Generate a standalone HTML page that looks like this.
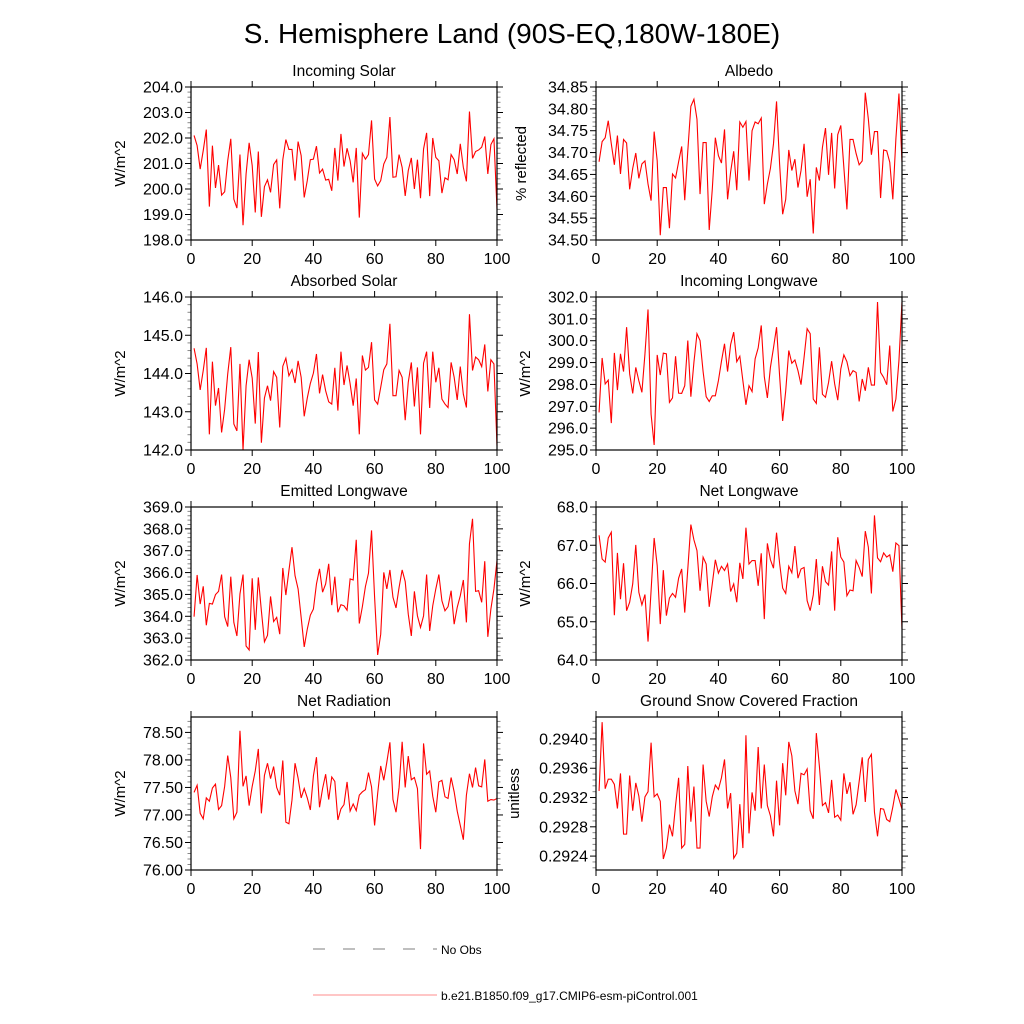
<!DOCTYPE html>
<html><head><meta charset="utf-8"><style>
html,body{margin:0;padding:0;background:#fff}
svg{display:block;font-family:"Liberation Sans",sans-serif}
</style></head><body>
<svg id="chart" width="1024" height="1024" viewBox="0 0 1024 1024">
<text x="512" y="43" text-anchor="middle" font-size="28">S. Hemisphere Land (90S-EQ,180W-180E)</text>
<g id="panels"></g>
<g>
<line x1="313" y1="949" x2="437" y2="949" stroke="#555" stroke-width="0.8" stroke-dasharray="12,18"/>
<text x="441" y="954" font-size="12">No Obs</text>
<line x1="313" y1="995" x2="437" y2="995" stroke="#f66" stroke-width="0.8"/>
<text x="441" y="1000" font-size="12">b.e21.B1850.f09_g17.CMIP6-esm-piControl.001</text>
</g>
</svg>
<script>
const xTicks=[0,20,40,60,80,100];
const incomingSolar=[202.10,201.70,200.78,201.51,202.33,199.31,201.70,200.04,200.94,199.76,199.89,201.11,201.97,199.60,199.25,201.35,198.58,200.59,201.81,200.92,199.08,201.47,198.91,200.09,200.36,199.87,200.96,201.14,199.24,201.15,201.94,201.55,201.55,200.33,201.86,201.31,199.67,200.33,201.15,201.17,201.68,200.63,200.78,200.35,200.38,199.93,201.61,200.33,202.16,200.88,201.60,201.11,200.26,201.61,198.88,201.40,201.17,201.35,202.69,200.39,200.12,200.33,200.98,201.24,202.82,200.46,200.48,201.35,200.85,199.73,200.72,201.22,200.00,201.15,199.64,201.57,202.20,199.72,202.00,201.24,201.11,199.84,200.44,200.36,201.35,201.15,200.59,201.77,200.85,200.30,203.04,201.20,201.47,201.53,201.64,202.06,200.59,201.74,201.97,199.21];
const albedo=[34.679,34.725,34.734,34.773,34.720,34.672,34.739,34.651,34.730,34.722,34.616,34.664,34.699,34.641,34.674,34.681,34.628,34.590,34.748,34.681,34.511,34.620,34.620,34.527,34.651,34.642,34.679,34.714,34.591,34.704,34.806,34.822,34.776,34.605,34.723,34.723,34.523,34.616,34.734,34.693,34.676,34.753,34.593,34.656,34.703,34.614,34.770,34.758,34.771,34.636,34.750,34.770,34.766,34.779,34.582,34.628,34.664,34.720,34.817,34.674,34.559,34.593,34.706,34.659,34.685,34.620,34.659,34.720,34.599,34.639,34.515,34.666,34.636,34.712,34.756,34.649,34.745,34.618,34.741,34.762,34.666,34.570,34.730,34.730,34.698,34.672,34.681,34.837,34.777,34.695,34.748,34.748,34.596,34.706,34.704,34.678,34.593,34.731,34.835,34.678];
const absorbedSolar=[144.66,144.25,143.57,144.08,144.67,142.41,144.31,143.16,143.62,142.46,143.07,143.99,144.69,142.68,142.50,144.25,142.00,143.68,144.36,143.88,142.69,144.56,142.19,143.36,143.68,143.29,144.05,143.90,142.59,144.19,144.40,143.94,144.10,143.75,144.33,143.90,142.88,143.36,143.74,144.01,144.51,143.48,143.97,143.55,143.26,143.20,144.15,143.03,144.57,143.70,144.21,143.73,143.16,143.87,142.41,144.47,144.09,144.16,144.82,143.31,143.20,143.64,144.10,144.25,145.30,143.42,143.42,144.08,143.90,142.78,143.77,144.29,143.14,144.16,142.41,144.27,144.57,143.10,144.57,143.77,144.15,143.33,143.20,143.11,144.29,143.90,143.31,144.18,143.46,143.11,145.55,144.08,144.43,144.36,144.18,144.76,143.53,144.36,144.25,142.11];
const incomingLW=[296.72,299.21,298.02,298.20,296.23,299.44,297.74,299.40,298.59,300.62,298.48,297.59,298.78,298.17,297.64,299.40,301.43,296.64,295.23,299.35,298.43,299.43,299.40,297.18,297.38,299.29,297.60,297.59,297.94,300.01,297.44,299.01,300.32,300.01,298.59,297.44,297.22,297.48,297.48,298.17,299.06,299.86,298.59,299.83,300.39,299.04,299.29,298.17,297.07,297.94,297.67,299.17,299.67,300.70,298.36,297.38,298.78,299.67,300.62,298.40,296.33,297.71,299.55,298.97,299.12,298.63,297.99,299.24,300.55,300.32,297.33,297.13,299.70,297.55,297.41,298.09,299.06,298.02,297.28,298.71,299.35,299.04,298.40,298.63,298.55,297.22,298.25,297.71,298.78,297.97,297.97,301.77,298.55,298.32,297.99,299.78,296.76,297.33,299.09,301.77];
const emittedLW=[363.98,365.89,364.56,365.37,363.59,364.59,364.56,364.99,365.14,365.91,363.98,363.53,365.81,363.72,363.10,365.02,365.91,362.64,362.46,365.74,363.38,365.78,364.25,362.83,363.13,364.91,363.76,363.95,363.18,366.21,364.97,366.09,367.16,365.86,365.25,363.95,362.60,363.41,364.05,364.33,365.48,366.17,365.10,365.48,366.40,364.51,365.81,364.18,364.53,364.48,364.28,365.71,365.66,367.50,363.67,364.44,365.36,365.97,367.93,364.87,362.23,363.18,366.01,365.25,366.12,364.87,364.38,365.32,366.12,365.59,364.10,363.10,365.14,364.02,363.49,364.02,365.91,363.33,364.48,365.25,365.91,364.71,364.25,364.44,365.17,363.64,364.41,364.94,365.66,363.72,367.32,368.46,365.14,365.17,364.64,366.52,363.06,364.33,365.25,366.55];
const netLW=[67.26,66.64,66.56,67.19,67.34,65.17,66.80,65.59,66.53,65.29,65.51,65.99,67.01,65.77,65.44,65.71,64.48,65.81,67.19,66.47,64.94,66.35,65.16,65.62,65.74,65.64,66.14,66.38,65.24,66.38,67.54,67.14,66.86,65.81,66.69,66.51,65.39,65.99,66.62,66.27,66.45,66.34,66.51,65.79,65.99,65.51,66.54,66.12,67.46,66.51,66.60,66.60,65.94,66.79,65.07,67.05,66.62,66.40,67.33,66.53,65.88,65.74,66.45,66.28,66.98,66.14,66.38,66.42,65.55,65.29,65.70,66.64,65.44,66.45,66.05,65.96,66.84,65.29,67.21,66.69,66.56,65.68,65.83,65.81,66.60,66.42,66.18,67.37,66.95,65.74,67.78,66.67,66.57,66.80,66.69,66.75,66.31,67.06,66.99,64.81];
const netRad=[77.41,77.54,77.03,76.93,77.31,77.25,77.49,77.56,77.10,77.17,77.52,78.08,77.68,76.93,77.05,78.53,77.52,77.71,77.17,77.52,77.80,78.20,77.03,77.72,77.94,77.66,77.88,77.50,77.36,77.99,76.87,76.84,77.27,77.94,77.67,77.31,77.48,77.31,77.09,77.71,78.05,77.14,77.48,77.74,77.28,77.69,77.61,76.91,77.11,77.19,77.60,77.07,77.20,77.08,77.36,77.42,77.46,77.77,77.51,76.81,77.39,77.89,77.63,77.96,78.32,77.28,77.05,77.50,78.33,77.50,78.07,77.64,77.68,77.48,76.38,78.30,77.74,77.80,77.34,77.05,77.60,77.63,77.33,77.30,77.68,77.42,77.07,76.81,76.55,77.36,77.75,77.50,77.86,77.53,77.51,78.01,77.25,77.28,77.27,77.30];
const snowFrac=[0.29329,0.29423,0.29332,0.29345,0.29345,0.29338,0.29305,0.29353,0.29270,0.29270,0.29350,0.29302,0.29340,0.29322,0.29287,0.29321,0.29328,0.29395,0.29321,0.29325,0.29315,0.29236,0.29251,0.29283,0.29267,0.29309,0.29347,0.29251,0.29256,0.29363,0.29287,0.29335,0.29251,0.29251,0.29365,0.29315,0.29294,0.29321,0.29337,0.29331,0.29347,0.29372,0.29305,0.29326,0.29237,0.29244,0.29311,0.29251,0.29405,0.29271,0.29327,0.29302,0.29389,0.29305,0.29365,0.29309,0.29295,0.29267,0.29343,0.29282,0.29367,0.29323,0.29396,0.29377,0.29329,0.29311,0.29353,0.29351,0.29359,0.29302,0.29291,0.29408,0.29363,0.29309,0.29313,0.29299,0.29344,0.29293,0.29296,0.29289,0.29353,0.29325,0.29341,0.29297,0.29310,0.29342,0.29375,0.29314,0.29372,0.29379,0.29300,0.29267,0.29305,0.29304,0.29290,0.29287,0.29307,0.29331,0.29318,0.29304];
const titles=["Incoming Solar","Albedo","Absorbed Solar","Incoming Longwave","Emitted Longwave","Net Longwave","Net Radiation","Ground Snow Covered Fraction"];
const yTitles=["W/m^2","% reflected","W/m^2","W/m^2","W/m^2","W/m^2","W/m^2","unitless"];
const series=[incomingSolar,albedo,absorbedSolar,incomingLW,emittedLW,netLW,netRad,snowFrac];
const yMins=[198,34.5,142,295,362,64,76,0.29221];
const yMaxs=[204,34.85,146,302,369,68,78.78,0.29430];
const yTickStarts=[198,34.5,142,295,362,64,76,0.2924];
const yTickSteps=[1,0.05,1,1,1,1,0.5,0.0004];
const yTickDec=[1,2,1,1,1,1,2,4];

const NS="http://www.w3.org/2000/svg";
const root=document.getElementById('panels');
function mk(tag,attrs,parent){const e=document.createElementNS(NS,tag);for(const k in attrs)e.setAttribute(k,attrs[k]);parent.appendChild(e);return e;}
const lefts=[191,596], tops=[87,297,507,717], W=306, H=153;
series.forEach((data,p)=>{
  const L=lefts[p%2], T=tops[Math.floor(p/2)];
  const g=mk('g',{},root);
  
  
  const xs=v=>L+v/100*W;
  const ys=v=>T+H-(v-yMins[p])/(yMaxs[p]-yMins[p])*H;
  const t=mk('text',{x:L+W/2,y:T-11,'text-anchor':'middle','font-size':15.5},g);t.textContent=titles[p];
  
  
  xTicks.forEach(v=>{
    const x=xs(v);
    mk('line',{x1:x,x2:x,y1:T+H,y2:T+H+6,stroke:'#000','stroke-width':1},g);
    mk('line',{x1:x,x2:x,y1:T,y2:T-6,stroke:'#000','stroke-width':1},g);
    const lb=mk('text',{x:x,y:T+H+24,'text-anchor':'middle','font-size':16},g);lb.textContent=v;
    
    
  });
  const st=yTickSteps[p];
  for(let k=-1;;k++){
    const base=yTickStarts[p]+k*st;
    if(base>yMaxs[p]+1e-9)break;
    for(let m=0;m<5;m++){
      const v=base+m*st/5;
      if(v<yMins[p]-1e-9||v>yMaxs[p]+1e-9)continue;
      const y=ys(v), len=m===0?6:3.5, col=m===0?'#000':'#888';
      mk('line',{x1:L,x2:L-len,y1:y,y2:y,stroke:col,'stroke-width':1},g);
      mk('line',{x1:L+W,x2:L+W+len,y1:y,y2:y,stroke:col,'stroke-width':1},g);
      if(m===0&&k>=0){
        const lb=mk('text',{x:L-8,y:y+5.5,'text-anchor':'end','font-size':16},g);lb.textContent=v.toFixed(yTickDec[p]);
        
        
      }
    }
  }
  const yt=mk('text',{x:0,y:0,'text-anchor':'middle','font-size':15,transform:`translate(${L-(p===7?77:p===1?70:66)},${T+H/2}) rotate(-90)`},g);yt.textContent=yTitles[p];
  
  
  const n=data.length;
  const pts=data.map((v,i)=>xs(1+i*99/(n-1)).toFixed(2)+','+ys(v).toFixed(2)).join(' ');
  const pl=mk('polyline',{points:pts,fill:'none',stroke:'#f00','stroke-width':1.1},g);
  
  
  const box=mk('rect',{x:L,y:T,width:W,height:H,fill:'none',stroke:'#000','stroke-width':1.2},g);
  
  
});
</script>
</body></html>
